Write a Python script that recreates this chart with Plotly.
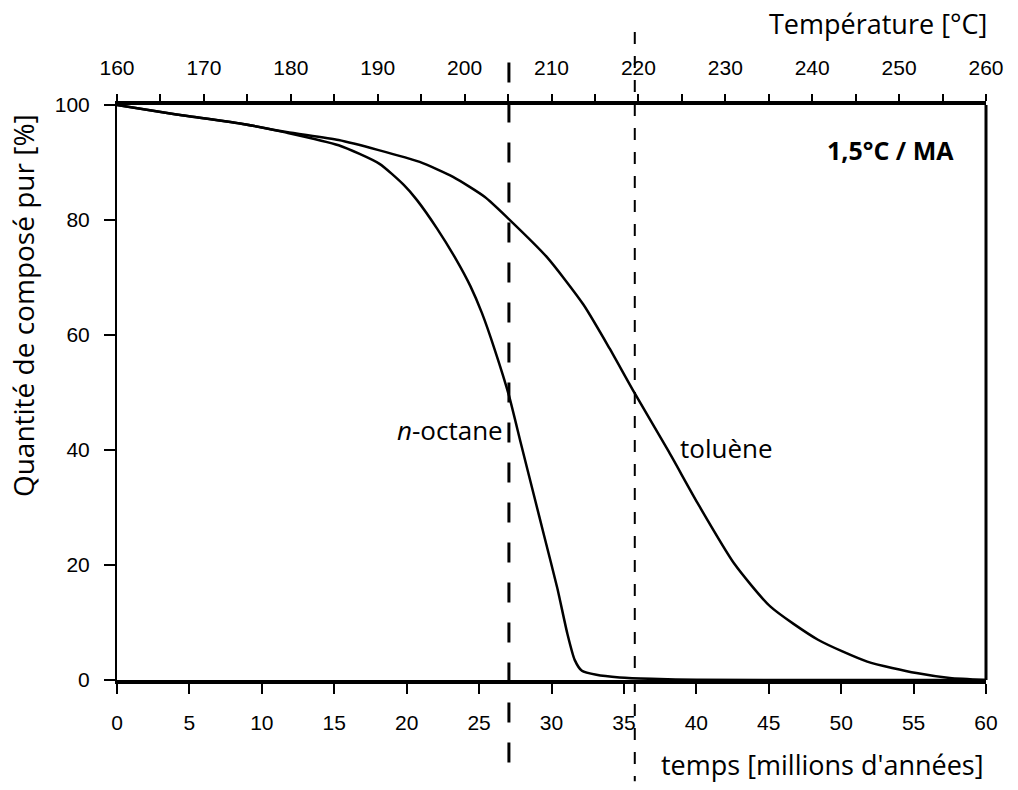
import plotly.graph_objects as go

# --- data ---
octane_t = [0, 4, 8.5, 11.7, 15.3, 18.1, 19.8, 20.7, 22.1, 23.4, 24.4, 25.2, 26.1, 27.06,
            27.9, 28.8, 29.5, 30.4, 31.1, 31.6, 32.1, 33.1, 34.7, 36.9, 40, 50, 60]
octane_v = [100, 98.4, 96.8, 95.2, 93.0, 89.8, 86.1, 83.5, 78.5, 73.2, 68.5, 63.8, 57.3, 49.5,
            41.0, 32.0, 25.0, 16.0, 8.0, 3.5, 1.6, 0.9, 0.45, 0.2, 0.05, 0, 0]

toluene_t = [0, 4, 8.5, 11.7, 15.3, 18.0, 20.9, 23.2, 25.4, 27.0, 29.7, 32.2, 34.0, 35.6,
             38.1, 40.1, 42.6, 45.1, 48.4, 51.8, 55.2, 57.5, 60]
toluene_v = [100, 98.4, 96.8, 95.3, 93.9, 92.2, 90.1, 87.5, 84.0, 80.3, 73.5, 65.3, 57.7, 50.5,
             39.7, 30.7, 20.3, 12.8, 7.0, 3.2, 1.2, 0.35, 0]

time_ticks = list(range(0, 61, 5))
pct_ticks = [0, 20, 40, 60, 80, 100]
temp_ticks = list(range(160, 261, 5))
temp_labels = [str(v) if v % 10 == 0 else "" for v in temp_ticks]

marker_thick_t = 27.06   # ~205 °C
marker_thin_t = 35.75    # ~220 °C

label_font = "Liberation Sans, Arial, sans-serif"
title_font = "Open Sans, Noto Sans, sans-serif"

fig = go.Figure()
fig.add_trace(go.Scatter(x=octane_t, y=octane_v, mode="lines",
                         line=dict(color="black", width=2.5, shape="spline", smoothing=0.6),
                         showlegend=False, cliponaxis=False))
fig.add_trace(go.Scatter(x=toluene_t, y=toluene_v, mode="lines",
                         line=dict(color="black", width=2.5, shape="spline", smoothing=0.6),
                         showlegend=False, cliponaxis=False))
# invisible trace to activate top temperature axis
fig.add_trace(go.Scatter(x=[temp_ticks[0], temp_ticks[-1]], y=[None, None], xaxis="x2",
                         mode="lines", showlegend=False, hoverinfo="skip"))

fig.update_layout(
    width=1002, height=774,
    margin=dict(l=109, r=6, t=97, b=102),
    paper_bgcolor="white", plot_bgcolor="white",
    xaxis=dict(range=[0, 60], tickvals=time_ticks, ticks="outside", ticklen=10, tickwidth=1.5,
               tickcolor="black", showline=True, linecolor="black", linewidth=3.5,
               showgrid=False, zeroline=False, ticklabelstandoff=11, ticklabeloverflow="allow",
               tickfont=dict(family=label_font, size=21, color="black")),
    yaxis=dict(range=[0, 100], tickvals=pct_ticks, ticks="outside", ticklen=11, tickwidth=1.5,
               tickcolor="black", showline=True, linecolor="black", linewidth=2,
               showgrid=False, zeroline=False, ticklabelstandoff=10,
               tickfont=dict(family=label_font, size=21, color="black")),
    xaxis2=dict(range=[160, 260], overlaying="x", side="top", anchor="y",
                tickvals=temp_ticks, ticktext=temp_labels, ticks="outside", ticklen=7,
                tickwidth=1.5, tickcolor="black", showline=True, linecolor="black",
                linewidth=3.5, showgrid=False, zeroline=False, ticklabelstandoff=11,
                ticklabeloverflow="allow",
                tickfont=dict(family=label_font, size=21, color="black")),
)

# right border
fig.add_shape(type="line", xref="paper", yref="paper", x0=1, x1=1, y0=0, y1=1,
              line=dict(color="black", width=3))
# dashed markers
fig.add_shape(type="line", xref="x", yref="paper", x0=marker_thick_t, x1=marker_thick_t,
              y0=1.074, y1=-0.176, line=dict(color="black", width=3, dash="20px,20px"))
fig.add_shape(type="line", xref="x", yref="paper", x0=marker_thin_t, x1=marker_thin_t,
              y0=1.127, y1=-0.176, line=dict(color="black", width=2, dash="12px,12px"))

ann = [
    dict(text="Quantité de composé pur [%]", xref="paper", yref="paper", x=-0.108, y=0.987,
         textangle=-90, showarrow=False, xanchor="center", yanchor="top",
         font=dict(family=title_font, size=28, color="black")),
    dict(text="temps [millions d'années]", xref="paper", yref="paper", x=1.0, y=-0.147,
         showarrow=False, xanchor="right", yanchor="middle",
         font=dict(family=title_font, size=27, color="black")),
    dict(text="Température [°C]", xref="paper", yref="paper", x=1.003, y=1.141,
         showarrow=False, xanchor="right", yanchor="middle",
         font=dict(family=title_font, size=27, color="black")),
    dict(text="<i>n</i>-octane", xref="x", yref="y", x=26.8, y=43.5,
         showarrow=False, xanchor="right", yanchor="middle",
         font=dict(family=title_font, size=26, color="black")),
    dict(text="toluène", xref="x", yref="y", x=38.75, y=40.4,
         showarrow=False, xanchor="left", yanchor="middle",
         font=dict(family=title_font, size=26, color="black")),
    dict(text="<b>1,5°C / MA</b>", xref="x", yref="y", x=57.9, y=92.1,
         showarrow=False, xanchor="right", yanchor="middle",
         font=dict(family=title_font, size=25, color="black")),
]
fig.update_layout(annotations=ann)

fig.write_html("out.html")
